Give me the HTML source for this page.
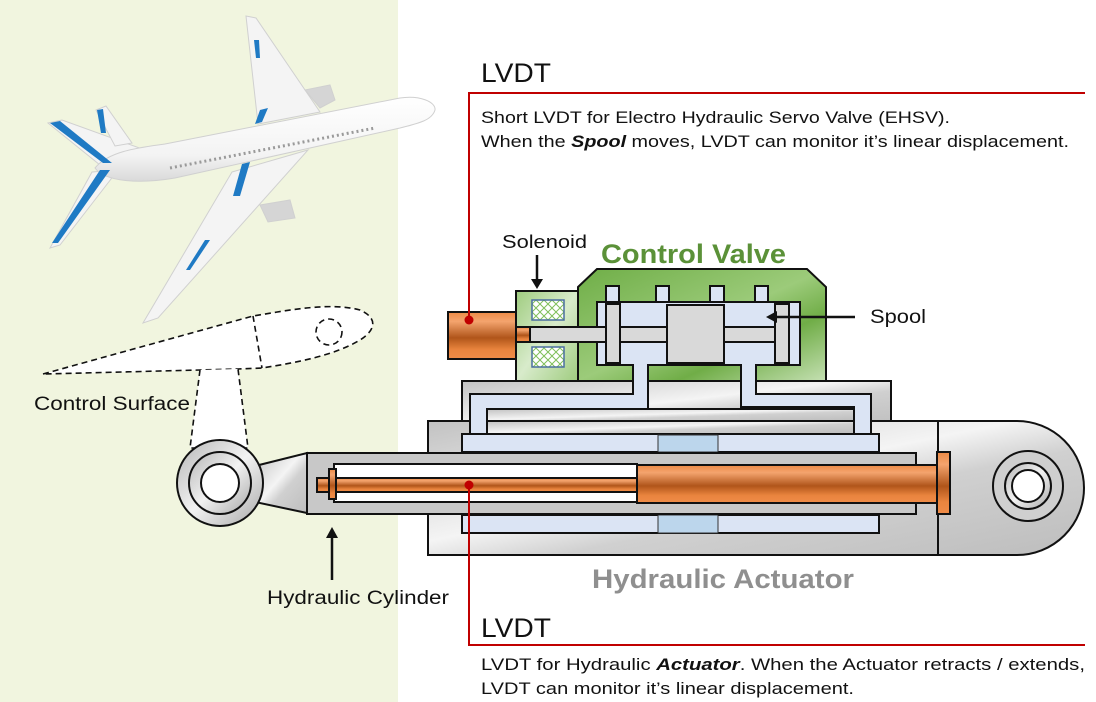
<!DOCTYPE html>
<html><head><meta charset="utf-8"><style>
html,body{margin:0;padding:0;background:#fff}
svg{display:block}
text{font-family:"Liberation Sans",sans-serif}
</style></head><body>
<svg width="1096" height="702" viewBox="0 0 1096 702" xmlns="http://www.w3.org/2000/svg">
<defs>
<linearGradient id="gr" x1="0" y1="0" x2="1" y2="1">
<stop offset="0" stop-color="#c2c2c2"/><stop offset="0.45" stop-color="#f4f4f4"/><stop offset="0.6" stop-color="#d0d0d0"/><stop offset="1" stop-color="#bdbdbd"/></linearGradient>
<linearGradient id="gn" x1="0" y1="0" x2="1" y2="1">
<stop offset="0" stop-color="#6fae47"/><stop offset="0.5" stop-color="#9ccb7a"/><stop offset="0.7" stop-color="#70ad47"/><stop offset="1" stop-color="#c5e0b3"/></linearGradient>
<linearGradient id="gn2" x1="0" y1="0" x2="1" y2="1">
<stop offset="0" stop-color="#9fcc7f"/><stop offset="0.5" stop-color="#d8ebcb"/><stop offset="1" stop-color="#9fcc7f"/></linearGradient>
<linearGradient id="or" x1="0" y1="0" x2="0" y2="1">
<stop offset="0" stop-color="#ed8a45"/><stop offset="0.2" stop-color="#f4a46e"/><stop offset="0.55" stop-color="#b0551a"/><stop offset="0.8" stop-color="#e9843e"/><stop offset="1" stop-color="#ef8c48"/></linearGradient>
<linearGradient id="ring" x1="0" y1="0" x2="1" y2="1">
<stop offset="0" stop-color="#b5b5b5"/><stop offset="0.5" stop-color="#f2f2f2"/><stop offset="1" stop-color="#a8a8a8"/></linearGradient>
<linearGradient id="fus" x1="0" y1="0" x2="0" y2="1">
<stop offset="0" stop-color="#ffffff"/><stop offset="0.7" stop-color="#f3f3f3"/><stop offset="1" stop-color="#d9d9d9"/></linearGradient>
<pattern id="coil" width="8" height="8" patternUnits="userSpaceOnUse">
<rect width="8" height="8" fill="#fff"/><path d="M0 4 L4 0 L8 4 L4 8 Z" fill="none" stroke="#7fbf5a" stroke-width="1"/></pattern>
</defs>

<rect x="0" y="0" width="398" height="702" fill="#f1f5df"/>

<!-- airplane -->
<g stroke="#d0d0d0" stroke-width="1" fill="#f4f4f4">
<path d="M246,16 L256,18 L320,112 L258,124 Z"/>
<path d="M232,172 L308,150 L158,318 L143,323 Z"/>
<path d="M48,123 L62,120 L145,150 L118,166 L100,165 Z"/>
<path d="M92,172 L118,170 L60,245 L50,248 Z"/>
<path d="M96,110 L106,106 L132,143 L115,146 Z"/>
<path d="M305,90 L330,85 L335,100 L320,108 Z" fill="#d5d5d5"/>
<path d="M260,205 L290,200 L295,218 L268,222 Z" fill="#d5d5d5"/>
<path d="M95,168 C108,152 135,148 165,144 L400,98 C420,95 436,102 435,110 C432,120 420,123 400,128 L175,178 C140,184 105,182 95,168 Z" fill="url(#fus)"/>
</g>
<line x1="170" y1="168" x2="375" y2="128" stroke="#9a9a9a" stroke-width="3" stroke-dasharray="2,3"/>
<g fill="#1f7ac4">
<path d="M254,40 L259,40 L260,58 L256,58Z"/>
<path d="M260,110 L268,108 L262,122 L255,124Z"/>
<path d="M242,164 L250,162 L240,196 L233,196Z"/>
<path d="M205,240 L210,240 L190,270 L186,270Z"/>
<path d="M50,123 L60,121 L112,163 L103,163Z"/>
<path d="M100,170 L110,170 L58,243 L52,243Z"/>
<path d="M97,110 L103,109 L106,133 L101,133Z"/>
</g>

<!-- control surface -->
<g fill="#fff" stroke="#111" stroke-width="1.6" stroke-dasharray="6,4">
<path d="M43,374 L253,316 C290,310 330,302 360,310 C378,318 376,330 360,340 C335,355 300,362 262,368 L238,369 L200,370 Z"/>
<path d="M200,370 L190,448 L248,448 L238,369"/>
<line x1="253" y1="316" x2="262" y2="368"/>
<circle cx="329" cy="332" r="13"/>
</g>
<text x="34" y="410" font-size="19" fill="#111" textLength="156" lengthAdjust="spacingAndGlyphs">Control Surface</text>

<!-- upper housing -->
<rect x="462" y="381" width="429" height="50" fill="url(#gr)" stroke="#111" stroke-width="2"/>
<path d="M428,421 L1017,421 A67,67 0 0 1 1017,555 L428,555 Z" fill="url(#gr)" stroke="#111" stroke-width="2"/>
<line x1="938" y1="421" x2="938" y2="555" stroke="#111" stroke-width="2"/>
<circle cx="1028" cy="486" r="35" fill="#cfcfcf" stroke="#111" stroke-width="2"/>
<circle cx="1028" cy="486" r="23" fill="url(#ring)" stroke="#111" stroke-width="2"/>
<circle cx="1028" cy="486" r="16" fill="#fff" stroke="#111" stroke-width="2"/>

<!-- green control valve -->
<path d="M578,287 L597,269 L807,269 L826,287 L826,381 L578,381 Z" fill="url(#gn)" stroke="#111" stroke-width="2"/>
<rect x="516" y="291" width="62" height="90" fill="url(#gn2)" stroke="#111" stroke-width="2"/>
<rect x="532" y="300" width="32" height="20" fill="url(#coil)" stroke="#4a6fa0" stroke-width="1.5"/>
<rect x="532" y="347" width="32" height="20" fill="url(#coil)" stroke="#4a6fa0" stroke-width="1.5"/>

<!-- blue passages -->
<path d="M633,364 L633,394 L470,394 L470,434 L462,434 L462,452 L879,452 L879,436 L871,436 L871,394 L756,394 L756,364 L741,364 L741,407 L854,407 L854,434 L487,434 L487,409 L648,409 L648,364 Z" fill="#dbe4f4" stroke="#111" stroke-width="2"/>
<rect x="487" y="409" width="367" height="12" fill="url(#gr)" stroke="#111" stroke-width="2"/>
<rect x="487" y="421" width="367" height="13" fill="url(#gr)" stroke="#111" stroke-width="2"/>
<rect x="462" y="434" width="417" height="18" fill="#dbe4f4" stroke="#111" stroke-width="2"/>
<rect x="658" y="435" width="60" height="17" fill="#bcd6ec" stroke="#333" stroke-width="1"/>
<rect x="462" y="515" width="417" height="18" fill="#dbe4f4" stroke="#111" stroke-width="2"/>
<rect x="658" y="515" width="60" height="18" fill="#bcd6ec" stroke="#333" stroke-width="1"/>

<!-- valve chamber -->
<g stroke="#111" stroke-width="2">
<rect x="606" y="286" width="13" height="18" fill="#dbe4f4"/>
<rect x="656" y="286" width="13" height="18" fill="#dbe4f4"/>
<rect x="710" y="286" width="14" height="18" fill="#dbe4f4"/>
<rect x="755" y="286" width="13" height="18" fill="#dbe4f4"/>
<rect x="597" y="302" width="203" height="63" fill="#dbe4f4"/>
<rect x="634" y="364" width="13" height="4" fill="#dbe4f4" stroke="none"/>
<rect x="742" y="364" width="13" height="4" fill="#dbe4f4" stroke="none"/>
<rect x="530" y="327" width="245" height="15" fill="#d9d9d9"/>
<rect x="606" y="304" width="14" height="59" fill="#d9d9d9"/>
<rect x="667" y="305" width="57" height="58" fill="#d9d9d9"/>
<rect x="775" y="304" width="14" height="59" fill="#d9d9d9"/>
<rect x="448" y="312" width="68" height="47" fill="url(#or)"/>
<rect x="516" y="327" width="14" height="15" fill="url(#or)"/>
</g>

<!-- left eye + taper + barrel -->
<g stroke="#111" stroke-width="2">
<path d="M255,466 L307,453 L307,513 L255,502 Z" fill="url(#gr)"/>
<circle cx="220" cy="483" r="43" fill="url(#ring)"/>
<circle cx="220" cy="483" r="31" fill="url(#ring)"/>
<circle cx="220" cy="483" r="19" fill="#fff"/>
<rect x="307" y="453" width="609" height="61" fill="#c8c8c8"/>
<rect x="334" y="464" width="303" height="38" fill="#fff"/>
<rect x="317" y="478" width="320" height="14" fill="url(#or)"/>
<rect x="329" y="469" width="7" height="30" fill="url(#or)"/>
<rect x="637" y="465" width="300" height="38" fill="url(#or)"/>
<rect x="937" y="452" width="13" height="62" fill="url(#or)"/>
</g>

<!-- red LVDT lines -->
<g stroke="#c00000" stroke-width="2" fill="none">
<polyline points="469,320 469,93 1085,93"/>
<polyline points="469,485 469,645 1085,645"/>
</g>
<circle cx="469" cy="320" r="4.5" fill="#c00000"/>
<circle cx="469" cy="485" r="4.5" fill="#c00000"/>

<!-- arrows -->
<g stroke="#111" stroke-width="2.5">
<line x1="537" y1="255" x2="537" y2="280"/>
<line x1="855" y1="317" x2="776" y2="317"/>
<line x1="332" y1="580" x2="332" y2="537"/>
</g>
<path d="M531,279 L543,279 L537,289 Z" fill="#111"/>
<path d="M777,311 L777,323 L766,317 Z" fill="#111"/>
<path d="M326,538 L338,538 L332,527 Z" fill="#111"/>

<!-- texts -->
<text x="481" y="82" font-size="27" fill="#111" textLength="70" lengthAdjust="spacingAndGlyphs">LVDT</text>
<text x="481" y="123" font-size="17" fill="#111" textLength="469" lengthAdjust="spacingAndGlyphs">Short LVDT for Electro Hydraulic Servo Valve (EHSV).</text>
<text x="481" y="147" font-size="17" fill="#111" textLength="588" lengthAdjust="spacingAndGlyphs">When the <tspan font-weight="bold" font-style="italic">Spool</tspan> moves, LVDT can monitor it’s linear displacement.</text>
<text x="502" y="248" font-size="18" fill="#111" textLength="85" lengthAdjust="spacingAndGlyphs">Solenoid</text>
<text x="601" y="263" font-size="27" font-weight="bold" fill="#5b9138" textLength="185" lengthAdjust="spacingAndGlyphs">Control Valve</text>
<text x="870" y="323" font-size="19" fill="#111" textLength="56" lengthAdjust="spacingAndGlyphs">Spool</text>
<text x="592" y="588" font-size="27" font-weight="bold" fill="#8f8f8f" textLength="262" lengthAdjust="spacingAndGlyphs">Hydraulic Actuator</text>
<text x="267" y="604" font-size="19" fill="#111" textLength="182" lengthAdjust="spacingAndGlyphs">Hydraulic Cylinder</text>
<text x="481" y="637" font-size="27" fill="#111" textLength="70" lengthAdjust="spacingAndGlyphs">LVDT</text>
<text x="481" y="670" font-size="17" fill="#111" textLength="604" lengthAdjust="spacingAndGlyphs">LVDT for Hydraulic <tspan font-weight="bold" font-style="italic">Actuator</tspan>. When the Actuator retracts / extends,</text>
<text x="481" y="694" font-size="17" fill="#111" textLength="373" lengthAdjust="spacingAndGlyphs">LVDT can monitor it’s linear displacement.</text>
</svg>
</body></html>
